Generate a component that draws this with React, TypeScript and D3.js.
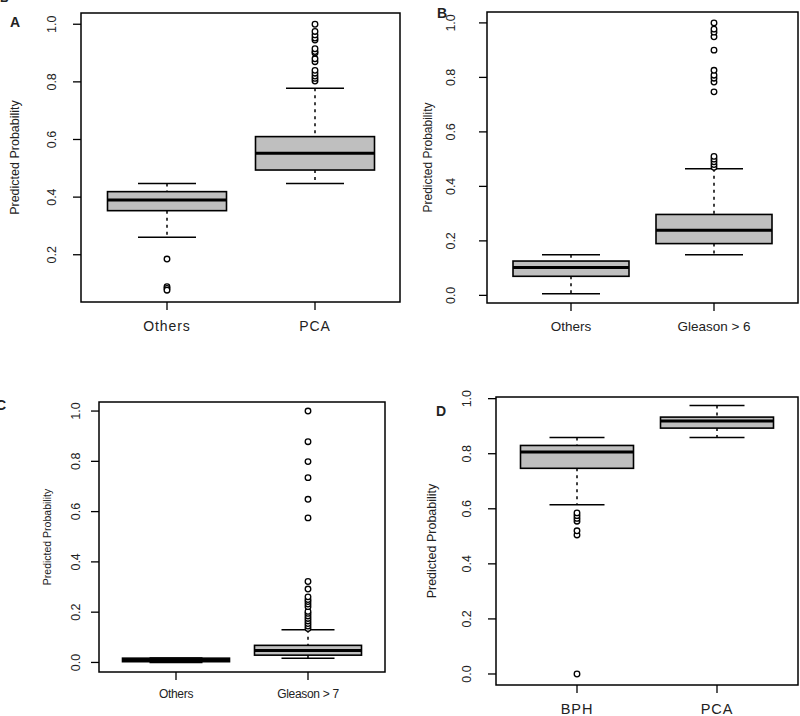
import React from "react";
import * as d3 from "d3";

// ---------- Data ----------
const aCategories = ["Others", "PCA"];
const aTicks = [0.2, 0.4, 0.6, 0.8, 1.0];
const aLower = [0.261, 0.447];
const aQ1 = [0.353, 0.494];
const aMedian = [0.39, 0.552];
const aQ3 = [0.419, 0.61];
const aUpper = [0.447, 0.778];
const aOutliers = [
  [0.185, 0.089, 0.083, 0.077],
  [0.803, 0.812, 0.82, 0.83, 0.84, 0.87, 0.88, 0.9, 0.905, 0.915, 0.945, 0.952, 0.963, 0.975, 1.0],
];

const bCategories = ["Others", "Gleason > 6"];
const bTicks = [0.0, 0.2, 0.4, 0.6, 0.8, 1.0];
const bLower = [0.006, 0.149];
const bQ1 = [0.07, 0.19];
const bMedian = [0.102, 0.239];
const bQ3 = [0.126, 0.297];
const bUpper = [0.149, 0.465];
const bOutliers = [
  [],
  [0.47, 0.48, 0.49, 0.5, 0.51, 0.747, 0.783, 0.797, 0.808, 0.826, 0.9, 0.949, 0.966, 0.977, 1.0],
];

const cCategories = ["Others", "Gleason > 7"];
const cTicks = [0.0, 0.2, 0.4, 0.6, 0.8, 1.0];
const cLower = [0.0, 0.017];
const cQ1 = [0.003, 0.029];
const cMedian = [0.01, 0.048];
const cQ3 = [0.017, 0.068];
const cUpper = [0.018, 0.13];
const cOutliers = [
  [],
  [0.135, 0.145, 0.155, 0.165, 0.175, 0.185, 0.195, 0.203, 0.222, 0.232, 0.242, 0.25, 0.261, 0.292, 0.322, 0.575, 0.649, 0.735, 0.799, 0.878, 1.0],
];

const dCategories = ["BPH", "PCA"];
const dTicks = [0.0, 0.2, 0.4, 0.6, 0.8, 1.0];
const dLower = [0.615, 0.859];
const dQ1 = [0.747, 0.893];
const dMedian = [0.806, 0.919];
const dQ3 = [0.83, 0.933];
const dUpper = [0.859, 0.975];
const dOutliers = [
  [0.0, 0.505, 0.52, 0.555, 0.565, 0.575, 0.585],
  [],
];

const yLabel = "Predicted Probability";

// ---------- Layout ----------
type Panel = {
  letter: string;
  letterX: number;
  letterY: number;
  left: number;
  top: number;
  right: number;
  bottom: number;
  domain: [number, number];
  ticks: number[];
  categories: string[];
  lower: number[];
  q1: number[];
  median: number[];
  q3: number[];
  upper: number[];
  outliers: number[][];
  xRange: [number, number];
  boxHalf: number;
  capHalf: number;
  tickLabelX: number;
  yLabelX: number;
  yLabelSize: number;
  xLabelY: number;
  xLabelSize: number;
  xLetterSpacing: number;
};

const panels: Panel[] = [
  {
    letter: "A", letterX: 10, letterY: 27,
    left: 81, top: 13, right: 400, bottom: 302, domain: [0.036, 1.039], ticks: aTicks,
    categories: aCategories, lower: aLower, q1: aQ1, median: aMedian, q3: aQ3, upper: aUpper, outliers: aOutliers,
    xRange: [167, 315], boxHalf: 59.5, capHalf: 29, tickLabelX: 52, yLabelX: 15, yLabelSize: 12.5,
    xLabelY: 331, xLabelSize: 14, xLetterSpacing: 0.9,
  },
  {
    letter: "B", letterX: 437, letterY: 18,
    left: 487, top: 12, right: 798, bottom: 303, domain: [-0.028, 1.04], ticks: bTicks,
    categories: bCategories, lower: bLower, q1: bQ1, median: bMedian, q3: bQ3, upper: bUpper, outliers: bOutliers,
    xRange: [571, 714], boxHalf: 58, capHalf: 29, tickLabelX: 451, yLabelX: 428, yLabelSize: 12,
    xLabelY: 331, xLabelSize: 13.5, xLetterSpacing: 0,
  },
  {
    letter: "C", letterX: -4, letterY: 410,
    left: 99, top: 402, right: 385, bottom: 672, domain: [-0.038, 1.036], ticks: cTicks,
    categories: cCategories, lower: cLower, q1: cQ1, median: cMedian, q3: cQ3, upper: cUpper, outliers: cOutliers,
    xRange: [176, 308], boxHalf: 53.5, capHalf: 26.5, tickLabelX: 76, yLabelX: 47, yLabelSize: 10.5,
    xLabelY: 698, xLabelSize: 12, xLetterSpacing: -0.3,
  },
  {
    letter: "D", letterX: 436, letterY: 416,
    left: 496, top: 397, right: 798, bottom: 685, domain: [-0.04, 1.006], ticks: dTicks,
    categories: dCategories, lower: dLower, q1: dQ1, median: dMedian, q3: dQ3, upper: dUpper, outliers: dOutliers,
    xRange: [577, 717], boxHalf: 56.5, capHalf: 27.5, tickLabelX: 467, yLabelX: 432, yLabelSize: 12.5,
    xLabelY: 714, xLabelSize: 14.5, xLetterSpacing: 0.9,
  },
];

const FONT = "'Liberation Sans', Arial, Helvetica, sans-serif";

function BoxPanel({ p }: { p: Panel }) {
  const y = d3.scaleLinear().domain(p.domain).range([p.bottom, p.top]);
  const x = d3.scalePoint<string>().domain(p.categories).range(p.xRange);
  const fmt = d3.format(".1f");
  const midY = (p.top + p.bottom) / 2;
  return (
    <g fontFamily={FONT}>
      {p.categories.map((c, i) => {
        const cx = x(c) as number;
        return (
          <g key={c}>
            <line x1={cx} x2={cx} y1={y(p.upper[i])} y2={y(p.q3[i])} stroke="#000" strokeWidth={1.5} strokeDasharray="3,4" />
            <line x1={cx} x2={cx} y1={y(p.q1[i])} y2={y(p.lower[i])} stroke="#000" strokeWidth={1.5} strokeDasharray="3,4" />
            <line x1={cx - p.capHalf} x2={cx + p.capHalf} y1={y(p.upper[i])} y2={y(p.upper[i])} stroke="#000" strokeWidth={1.5} />
            <line x1={cx - p.capHalf} x2={cx + p.capHalf} y1={y(p.lower[i])} y2={y(p.lower[i])} stroke="#000" strokeWidth={1.5} />
            <rect x={cx - p.boxHalf} width={p.boxHalf * 2} y={y(p.q3[i])} height={Math.max(0.5, y(p.q1[i]) - y(p.q3[i]))} fill="#bfbfbf" stroke="#000" strokeWidth={1.6} />
            <line x1={cx - p.boxHalf} x2={cx + p.boxHalf} y1={y(p.median[i])} y2={y(p.median[i])} stroke="#000" strokeWidth={3} />
            {p.outliers[i].map((v, j) => (
              <circle key={j} cx={cx} cy={y(v)} r={2.8} fill="#fff" stroke="#000" strokeWidth={1.3} />
            ))}
          </g>
        );
      })}
      <rect x={p.left} y={p.top} width={p.right - p.left} height={p.bottom - p.top} fill="none" stroke="#000" strokeWidth={1.5} />
      {p.ticks.map((t) => (
        <g key={t}>
          <line x1={p.left - 8} x2={p.left} y1={y(t)} y2={y(t)} stroke="#000" strokeWidth={1.3} />
          <text
            transform={`translate(${p.tickLabelX},${y(t)}) rotate(-90)`}
            textAnchor="middle"
            dominantBaseline="central"
            fontSize={12.5}
            fill="#222"
          >
            {fmt(t)}
          </text>
        </g>
      ))}
      {p.categories.map((c) => (
        <g key={c}>
          <line x1={x(c) as number} x2={x(c) as number} y1={p.bottom} y2={p.bottom + 8} stroke="#000" strokeWidth={1.3} />
          <text x={x(c) as number} y={p.xLabelY} textAnchor="middle" fontSize={p.xLabelSize} letterSpacing={p.xLetterSpacing} fill="#222">
            {c}
          </text>
        </g>
      ))}
      <text
        transform={`translate(${p.yLabelX},${midY}) rotate(-90)`}
        textAnchor="middle"
        dominantBaseline="central"
        fontSize={p.yLabelSize}
        fill="#222"
      >
        {yLabel}
      </text>
      <text x={p.letterX} y={p.letterY} fontWeight="bold" fontSize={14} fill="#222">
        {p.letter}
      </text>
    </g>
  );
}

export default function App() {
  return (
    <svg width={800} height={716} style={{ position: "absolute", left: 0, top: 0, background: "#fff" }}>
      <rect x={0} y={0} width={800} height={716} fill="#fff" />
      <text x={0} y={2} fontWeight="bold" fontSize={12} fontFamily={FONT} fill="#222">B</text>
      {panels.map((p) => (
        <BoxPanel key={p.letter} p={p} />
      ))}
    </svg>
  );
}
